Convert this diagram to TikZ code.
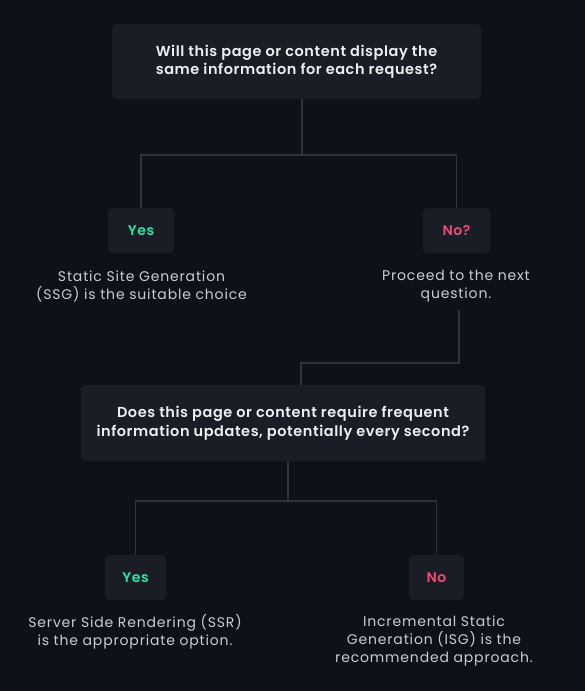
\documentclass[tikz,border=0pt]{standalone}
\usepackage{fontspec}
\setmainfont{Poppins}[LetterSpace=6]
\newfontfamily\popsemi{Poppins SemiBold}[LetterSpace=4]
\usetikzlibrary{positioning,calc}
\definecolor{bgdark}{HTML}{0E1118}
\definecolor{boxfill}{HTML}{1A1D25}
\definecolor{linkgrey}{HTML}{30333C}
\definecolor{qwhite}{HTML}{EDEEF0}
\definecolor{bodygrey}{HTML}{C9CCD3}
\definecolor{yesgreen}{HTML}{2FE3A5}
\definecolor{nopink}{HTML}{F04B72}

\begin{document}
\begin{tikzpicture}[x=1pt,y=-1pt,
    qbox/.style={rectangle,rounded corners=4pt,fill=boxfill,text=qwhite,align=center,inner sep=0pt,font=\fontsize{14.5}{18.5}\selectfont\popsemi},
    ansbox/.style={rectangle,rounded corners=4pt,fill=boxfill,minimum height=45pt,inner sep=0pt,font=\fontsize{14}{17}\selectfont\popsemi},
    note/.style={align=center,text=bodygrey,inner sep=0pt,font=\fontsize{14}{18}\selectfont},
    link/.style={draw=linkgrey,line width=1.8pt}]
    \fill[bgdark] (0,0) rectangle (585,691);
    \useasboundingbox (0,0) rectangle (585,691);
    % first question
    \node[qbox,minimum width=369pt,minimum height=75pt] (q1) at (296.5,61.5) {Will this page or content display the\\same information for each request?};
    \node[ansbox,minimum width=66pt,text=yesgreen] (yes1) at (141,230.5) {Yes};
    \node[ansbox,minimum width=67pt,text=nopink] (no1) at (456.5,230.5) {No?};
    \node[note] (ssg) at (141.5,286) {Static Site Generation\\(SSG) is the suitable choice};
    \node[note] (next) at (456,286) {Proceed to the next\\question.};
    \coordinate (j1) at (302,155);
    \draw[link] (q1.south -| j1) -- (j1);
    \draw[link] (yes1.north) |- (j1) -| (no1.north);
    % second question
    \node[qbox,minimum width=404pt,minimum height=76pt] (q2) at (283,423) {Does this page or content require frequent\\information updates, potentially every second?};
    \coordinate (k1) at (301,363);
    \draw[link] ($(next.south)+(3,8)$) |- (k1) -- (k1 |- q2.north);
    \node[ansbox,minimum width=61pt,text=yesgreen] (yes2) at (135.5,577.5) {Yes};
    \node[ansbox,minimum width=55pt,text=nopink] (no2) at (436.5,577.5) {No};
    \node[note] (ssr) at (135,632) {Server Side Rendering (SSR)\\is the appropriate option.};
    \node[note] (isg) at (434,641) {Incremental Static\\Generation (ISG) is the\\recommended approach.};
    \coordinate (j2) at (288,501);
    \draw[link] (q2.south -| j2) -- (j2);
    \draw[link] (yes2.north) |- (j2) -| (no2.north);
\end{tikzpicture}
\end{document}
